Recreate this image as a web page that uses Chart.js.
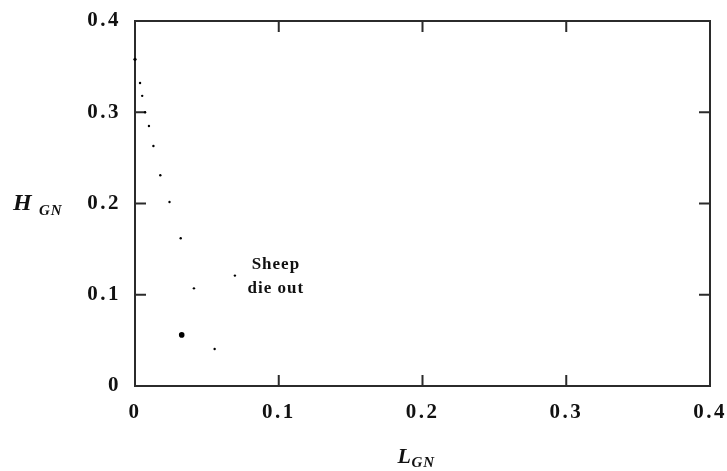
<!DOCTYPE html>
<html>
<head>
<meta charset="utf-8">
<script src="https://cdn.jsdelivr.net/npm/chart.js@4.4.1/dist/chart.umd.min.js"></script>
<style>
html,body{margin:0;padding:0;background:#fff;}
#wrap{position:relative;width:727px;height:471px;}
</style>
</head>
<body>
<div id="wrap"><canvas id="c" width="727" height="471"></canvas></div>
<script>
// Data
const lgnValues = [0, 0.0035, 0.005, 0.007, 0.0097, 0.0128, 0.0176, 0.024, 0.0318, 0.041, 0.0325, 0.0554, 0.0695];
const hgnValues = [0.358, 0.332, 0.318, 0.300, 0.285, 0.263, 0.231, 0.2016, 0.162, 0.107, 0.056, 0.0405, 0.121];
const pointSizes = [1.6, 1.2, 1.2, 1.2, 1.2, 1.2, 1.2, 1.2, 1.2, 1.2, 2.8, 1.2, 1.2];
const xTickValues = [0, 0.1, 0.2, 0.3, 0.4];
const yTickValues = [0, 0.1, 0.2, 0.3, 0.4];
const xTickLabels = ['0', '0.1', '0.2', '0.3', '0.4'];
const yTickLabels = ['0', '0.1', '0.2', '0.3', '0.4'];
const annotationLines = ['Sheep', 'die out'];
const annotationAt = {x: 0.098, y: 0.1};

const points = lgnValues.map((v, i) => ({x: v, y: hgnValues[i]}));
const FRAME = '#2b2b2b';
const SERIF = "'Liberation Serif', 'DejaVu Serif', serif";

const spacingPlugin = {
  id: 'spacing',
  beforeDraw(chart) { chart.ctx.letterSpacing = '2.5px'; },
  afterDraw(chart) { chart.ctx.letterSpacing = '0px'; }
};

const framePlugin = {
  id: 'frame',
  beforeDatasetsDraw(chart) {
    const ctx = chart.ctx;
    const a = chart.chartArea;
    const xs = chart.scales.x, ys = chart.scales.y;
    ctx.save();
    ctx.letterSpacing = '0px';
    ctx.strokeStyle = FRAME;
    ctx.lineWidth = 2;
    ctx.strokeRect(a.left, a.top, a.right - a.left, a.bottom - a.top);
    const tl = 11;
    ctx.beginPath();
    xTickValues.forEach(v => {
      if (v === xs.min || v === xs.max) return;
      const px = xs.getPixelForValue(v);
      ctx.moveTo(px, a.bottom); ctx.lineTo(px, a.bottom - tl);
      ctx.moveTo(px, a.top); ctx.lineTo(px, a.top + tl);
    });
    yTickValues.forEach(v => {
      if (v === ys.min || v === ys.max) return;
      const py = ys.getPixelForValue(v);
      ctx.moveTo(a.left, py); ctx.lineTo(a.left + tl, py);
      ctx.moveTo(a.right, py); ctx.lineTo(a.right - tl, py);
    });
    ctx.stroke();
    ctx.restore();
  },
  afterDraw(chart) {
    const ctx = chart.ctx;
    const xs = chart.scales.x, ys = chart.scales.y;
    ctx.save();
    // annotation
    ctx.fillStyle = '#111';
    ctx.letterSpacing = '1px';
    ctx.font = "bold 17px " + SERIF;
    ctx.textAlign = 'center';
    ctx.textBaseline = 'middle';
    const ax = xs.getPixelForValue(annotationAt.x), ay = ys.getPixelForValue(annotationAt.y);
    ctx.fillText(annotationLines[0], ax, ay - 30);
    ctx.fillText(annotationLines[1], ax, ay - 6);

    // axis titles with subscripts
    ctx.letterSpacing = '1px';
    ctx.textAlign = 'left';
    ctx.textBaseline = 'alphabetic';
    ctx.font = "italic bold 24px " + SERIF;
    ctx.fillText('H', 13, 210);
    ctx.font = "italic bold 15px " + SERIF;
    ctx.fillText('GN', 39, 215);

    const lx = xs.getPixelForValue(0.2) - 25;
    ctx.font = "italic bold 22px " + SERIF;
    ctx.fillText('L', lx, 463);
    ctx.font = "italic bold 15px " + SERIF;
    ctx.fillText('GN', lx + 14, 467);
    ctx.restore();
  }
};

new Chart(document.getElementById('c'), {
  type: 'scatter',
  data: {
    datasets: [{
      data: points,
      backgroundColor: '#000',
      borderColor: '#000',
      borderWidth: 0,
      pointRadius: pointSizes,
      pointHoverRadius: pointSizes,
      pointStyle: 'circle',
      clip: false
    }]
  },
  options: {
    responsive: false,
    animation: false,
    events: [],
    layout: {padding: {top: 21, right: 17, left: 0, bottom: 0}},
    plugins: {legend: {display: false}, tooltip: {enabled: false}},
    scales: {
      x: {
        type: 'linear', min: 0, max: 0.4,
        afterBuildTicks(s) { s.ticks = xTickValues.map(v => ({value: v})); },
        afterFit(s) { s.height = 85; s.paddingRight = 0; s.paddingLeft = 0; },
        grid: {display: false},
        border: {display: false},
        ticks: {
          padding: 6,
          color: '#111',
          font: {family: SERIF, size: 21, weight: 'bold'},
          maxRotation: 0,
          callback: (v) => xTickLabels[xTickValues.indexOf(+v.toFixed(2))]
        }
      },
      y: {
        type: 'linear', min: 0, max: 0.4,
        afterBuildTicks(s) { s.ticks = yTickValues.map(v => ({value: v})); },
        afterFit(s) { s.width = 135; s.paddingTop = 0; s.paddingBottom = 0; },
        grid: {display: false},
        border: {display: false},
        ticks: {
          padding: 6,
          color: '#111',
          font: {family: SERIF, size: 21, weight: 'bold'},
          callback: (v) => yTickLabels[yTickValues.indexOf(+v.toFixed(2))]
        }
      }
    }
  },
  plugins: [spacingPlugin, framePlugin]
});
</script>
</body>
</html>
